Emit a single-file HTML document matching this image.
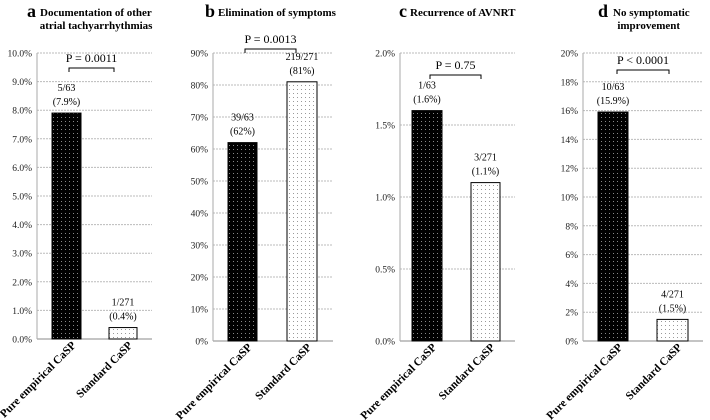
<!DOCTYPE html>
<html><head><meta charset="utf-8"><style>
body{margin:0;background:#fff}
svg{display:block;font-family:"Liberation Serif",serif}
</style></head><body>
<svg id="c" width="710" height="420" viewBox="0 0 710 420">
<defs>
<pattern id="pd" width="4" height="4" patternUnits="userSpaceOnUse"><rect width="4" height="4" fill="#000"/><rect x="1" y="1" width="1" height="1" fill="#888"/></pattern>
<pattern id="pl" width="4" height="4" patternUnits="userSpaceOnUse"><rect width="4" height="4" fill="#fff"/><rect x="1" y="1" width="1" height="1" fill="#999"/></pattern>
</defs>
</svg>
<script>
const categories=["Pure empirical CaSP","Standard CaSP"];
const valuesA=[7.9,0.4];
const valuesB=[62,81];
const valuesC=[1.6,1.1];
const valuesD=[15.9,1.5];
const countsA=["5/63","1/271"];
const countsB=["39/63","219/271"];
const countsC=["1/63","3/271"];
const countsD=["10/63","4/271"];
const pctA=["(7.9%)","(0.4%)"];
const pctB=["(62%)","(81%)"];
const pctC=["(1.6%)","(1.1%)"];
const pctD=["(15.9%)","(1.5%)"];
const ticksA=["0.0%","1.0%","2.0%","3.0%","4.0%","5.0%","6.0%","7.0%","8.0%","9.0%","10.0%"];
const ticksB=["0%","10%","20%","30%","40%","50%","60%","70%","80%","90%"];
const ticksC=["0.0%","0.5%","1.0%","1.5%","2.0%"];
const ticksD=["0%","2%","4%","6%","8%","10%","12%","14%","16%","18%","20%"];
const pvals=["P = 0.0011","P = 0.0013","P = 0.75","P < 0.0001"];

const svg=document.getElementById('c');
const NS='http://www.w3.org/2000/svg';
function mk(tag,attrs,parent){const e=document.createElementNS(NS,tag);for(const k in attrs)e.setAttribute(k,attrs[k]);(parent||svg).appendChild(e);return e;}

const panels=[
 {id:'a',vals:valuesA,cnt:countsA,pct:pctA,ticks:ticksA,max:10,ax:37,gx:152,top:53,bot:339,bars:[[52,81],[109,137]],br:[69,114,68],title:["Documentation of other","atrial tachyarrhythmias"],tx:40,lx:27},
 {id:'b',vals:valuesB,cnt:countsB,pct:pctB,ticks:ticksB,max:90,ax:213,gx:333,top:53,bot:341,bars:[[228,257],[287,317]],br:[245,296,49],title:["Elimination of symptoms"],tx:218,lx:205},
 {id:'c',vals:valuesC,cnt:countsC,pct:pctC,ticks:ticksC,max:2,ax:400,gx:515,top:53,bot:341,bars:[[412,442],[471,500]],br:[430,481,75],title:["Recurrence of AVNRT"],tx:410,lx:399},
 {id:'d',vals:valuesD,cnt:countsD,pct:pctD,ticks:ticksD,max:20,ax:583,gx:703,top:53,bot:341,bars:[[598,628],[657,688]],br:[617,669,70],title:["No symptomatic","improvement"],tx:613,lx:598}
];
const labelLen=[102,74];

panels.forEach((p,pi)=>{
 const g=mk('g',{});
 
 
 const y=v=>p.bot-(v/p.max)*(p.bot-p.top);
 const tl=mk('text',{x:p.lx,y:17,'font-size':18,'font-weight':'bold'},g);tl.textContent=p.id;
 
 
 p.title.forEach((t,i)=>{
  const te=mk('text',{x:i==0?p.tx:(p.tx+(p.title[0].length*5.1)/2),y:16+i*13,'font-size':11,'font-weight':'bold','text-anchor':i==0?'start':'middle'},g);
  te.textContent=t;
  
  
 });
 p.ticks.forEach((t,i)=>{
  const v=i*p.max/(p.ticks.length-1);const yy=y(v);
  const gl=mk('line',{x1:p.ax,x2:p.gx,y1:yy,y2:yy,stroke:i==0?'#888':'#bbb','stroke-dasharray':i==0?'':'2,1','stroke-width':1},g);
  
  
  const tt=mk('text',{x:p.ax-5,y:yy+3.5,'font-size':9.5,'text-anchor':'end',fill:'#222'},g);tt.textContent=t;
  
  
 });
 const axl=mk('line',{x1:p.ax,x2:p.ax,y1:p.top,y2:p.bot,stroke:'#aaa'},g);
 
 
 p.vals.forEach((v,i)=>{
  const [x0,x1]=p.bars[i];const yy=y(v);
  const r=mk('rect',{x:x0,y:yy,width:x1-x0,height:p.bot-yy,fill:i==0?'url(#pd)':'url(#pl)',stroke:'#000','stroke-width':1},g);
  
  
  const cx=(x0+x1)/2;
  const a=mk('text',{x:cx,y:yy-22,'font-size':10,'text-anchor':'middle'},g);a.textContent=p.cnt[i];
  
  
  const b=mk('text',{x:cx,y:yy-8,'font-size':10,'text-anchor':'middle'},g);b.textContent=p.pct[i];
  
  
  const c=mk('text',{x:0,y:0,'font-size':11.5,'font-weight':'bold','text-anchor':'end',textLength:labelLen[i],lengthAdjust:'spacingAndGlyphs',transform:`translate(${cx+10},${p.bot+7}) rotate(-45)`},g);
  c.textContent=categories[i];
  
  
 });
 const [bx0,bx1,by]=p.br;
 const br=mk('path',{d:`M${bx0},${by+4}V${by}H${bx1}V${by+4}`,fill:'none',stroke:'#000','stroke-width':1},g);
 
 
 const pt=mk('text',{x:(bx0+bx1)/2,y:by-6,'font-size':12,'text-anchor':'middle'},g);pt.textContent=pvals[pi];
 
 
});
</script>
</body></html>
